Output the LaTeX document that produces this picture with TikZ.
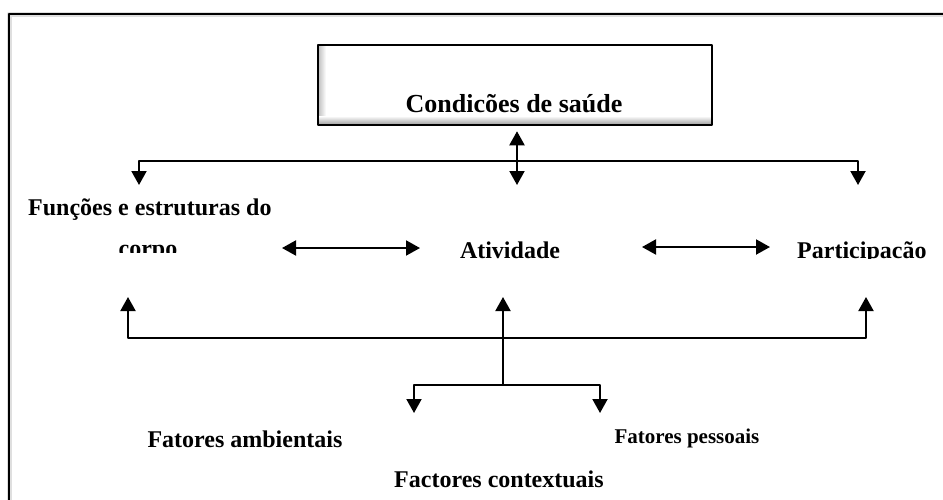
\documentclass[tikz,border=0pt]{standalone}
\usepackage{fontspec}
\setmainfont{Liberation Serif}
\usetikzlibrary{arrows.meta}
\begin{document}
\begin{tikzpicture}[x=1pt, y=-1pt, line join=round,
	>={Triangle[length=14pt,width=15pt]},
	lbl/.style={font=\fontsize{24}{28}\selectfont\bfseries, inner sep=0pt, anchor=base},
	seta/.style={line width=2pt}]
	\useasboundingbox (0,0) rectangle (943,499);
	\clip (0,0) rectangle (943,499);
	% moldura
	\draw[gray!25, line width=5pt] (9,14) rectangle (990,540);
	\draw[line width=2pt] (9,14) rectangle (990,540);
	% caixa do topo
	\fill[white] (318,45) rectangle (712,125);
	\shade[left color=gray!45, right color=white] (319,46) rectangle (326,124);
	\shade[top color=white, bottom color=gray!70] (319,116) rectangle (711,124);
	\node[draw, line width=2.5pt, minimum width=394pt, minimum height=80pt, inner sep=0pt] (caixa) at (515,85) {};
	\node[lbl, font=\fontsize{26}{30}\selectfont\bfseries] (saude) at (514,112) {Condicões de saúde};
	
	\node[lbl, anchor=base west] (func) at (28,215) {Funções e estruturas do};
	\begin{scope}
		\clip (100,230) rectangle (200,252);
		\node[lbl] (corpo) at (148,256) {corpo};
	\end{scope}
	\node[lbl] (ativ) at (510,258) {Atividade};
	\begin{scope}
		\clip (780,225) rectangle (940,258);
		\node[lbl, anchor=base west] (part) at (797,258) {Participacão};
	\end{scope}
	\node[lbl] (amb) at (245,447) {Fatores ambientais};
	\node[lbl, font=\fontsize{21}{25}\selectfont\bfseries] (pess) at (687,443) {Fatores pessoais};
	\node[lbl] (cont) at (499,487) {Factores contextuais};
	
	\coordinate (fA) at (139,185);
	\coordinate (aA) at (517,185);
	\coordinate (pA) at (858,185);
	\coordinate (tE) at (139,161);
	\coordinate (tD) at (858,161);
	\coordinate (fB) at (128,297);
	\coordinate (aB) at (503,297);
	\coordinate (pB) at (866,297);
	\coordinate (bE) at (128,338);
	\coordinate (bD) at (866,338);
	\coordinate (nM) at (503,385);
	\coordinate (nE) at (414,385);
	\coordinate (nD) at (600,385);
	\coordinate (sE) at (414,413);
	\coordinate (sD) at (600,413);
	\coordinate (h1) at (282,248);
	\coordinate (h2) at (420,248);
	\coordinate (h3) at (642,247);
	\coordinate (h4) at (770,247);
	
	\draw[seta,<->] (fA) -- (tE) -- (tD) -- (pA);
	\draw[seta,<->] ([yshift=-5pt]caixa.south -| aA) -- (aA);
	\draw[seta,<->] (h1) -- (h2);
	\draw[seta,<->] (h3) -- (h4);
	\draw[seta,<->] (fB) -- (bE) -- (bD) -- (pB);
	\draw[seta,->] (nM) -- (aB);
	\draw[seta,<->] (sE) -- (nE) -- (nD) -- (sD);
\end{tikzpicture}
\end{document}
